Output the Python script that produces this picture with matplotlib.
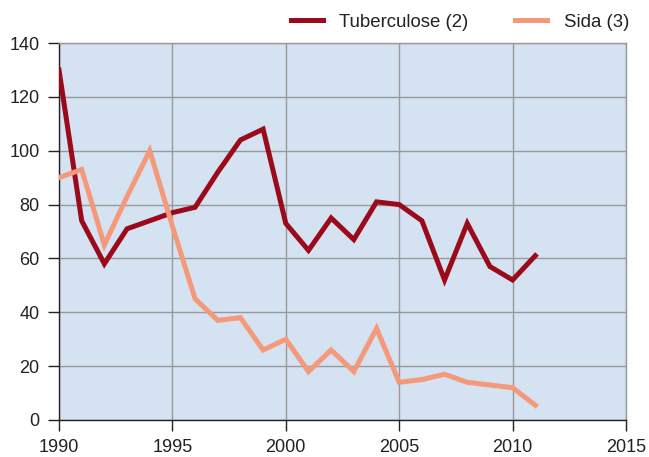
import matplotlib
matplotlib.use("Agg")
import matplotlib.pyplot as plt

years = list(range(1990, 2012))
tuberculose = [130, 74, 58, 71, 74, 77, 79, 92, 104, 108, 73, 63, 75, 67, 81, 80, 74, 52, 73, 57, 52, 61]
sida = [90, 93, 65, 83, 100, 72, 45, 37, 38, 26, 30, 18, 26, 18, 34, 14, 15, 17, 14, 13, 12, 5.5]
labels = ["Tuberculose (2)", "Sida (3)"]
xticks = [1990, 1995, 2000, 2005, 2010, 2015]
yticks = [0, 20, 40, 60, 80, 100, 120, 140]

plt.rcParams['font.family'] = ['Liberation Sans', 'DejaVu Sans']
fig = plt.figure(figsize=(6.49, 4.57), dpi=100)
ax = fig.add_axes([59/649, 1 - 420/457, (626 - 59)/649, (420 - 43)/457])
ax.set_facecolor('#d4e2f2')
ax.plot(years, tuberculose, color='#9b0a1a', lw=3.6, label=labels[0], solid_joinstyle='miter', zorder=3)
ax.plot(years, sida, color='#f5997b', lw=3.6, label=labels[1], solid_joinstyle='miter', zorder=3)
ax.set_xlim(1990, 2015)
ax.set_ylim(0, 140)
ax.set_xticks(xticks)
ax.set_yticks(yticks)
ax.grid(True, color='#999999', lw=1.0, zorder=1)
ax.set_axisbelow(True)
for s in ['top', 'right']:
    ax.spines[s].set_color('#999999')
    ax.spines[s].set_linewidth(1.0)
for s in ['left', 'bottom']:
    ax.spines[s].set_color('#222222')
    ax.spines[s].set_linewidth(1.0)
ax.tick_params(axis='both', direction='out', length=8, width=1, color='#222222', labelsize=13, labelcolor='#222222')
ax.tick_params(axis='x', pad=6)
ax.tick_params(axis='y', pad=6)
leg = fig.legend(loc='center', bbox_to_anchor=(460/649, 1 - 22/457), ncol=2, frameon=False,
                 fontsize=13.4, handlelength=1.72, columnspacing=2.5, handletextpad=0.9)
for t in leg.get_texts():
    t.set_color('#222222')
fig.savefig('out.png', dpi=100)
